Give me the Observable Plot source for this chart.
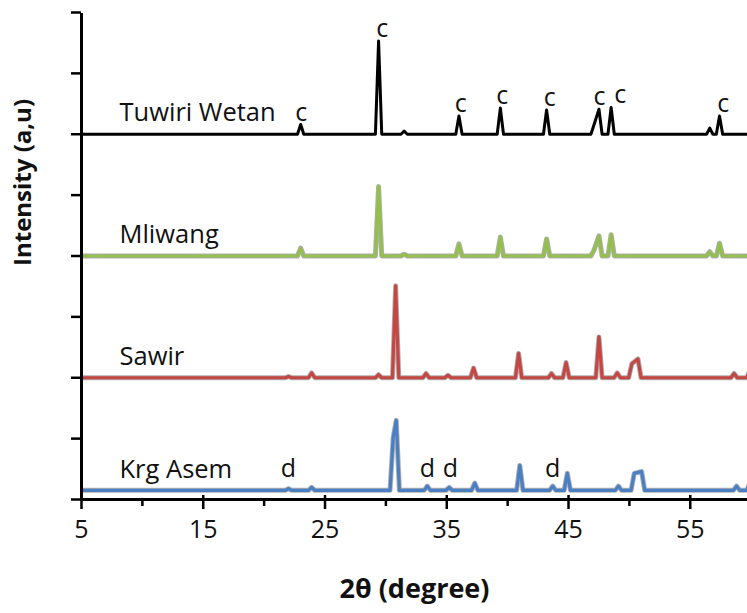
<!DOCTYPE html>
<html>
<head>
<meta charset="utf-8">
<script src="https://cdn.jsdelivr.net/npm/d3@7"></script>
<script src="https://cdn.jsdelivr.net/npm/@observablehq/plot@0.6"></script>
<style>
  html, body { margin: 0; padding: 0; background: #fff; }
  #chart svg { display: block; }
</style>
</head>
<body>
<div id="chart"></div>
<script>
// XRD patterns of four limestone samples, stacked with vertical offsets.
const sampleNames = ["Tuwiri Wetan", "Mliwang", "Sawir", "Krg Asem"];
const sampleOffsets = [6, 4, 2, 0.15];

// Peaks as [2θ (degree), intensity above the sample's baseline (a.u.)]
const tuwiriWetanPeaks = [
  [23.0, 0.16], [29.4, 1.53], [31.5, 0.05], [36.0, 0.30], [39.4, 0.43],
  [43.2, 0.40], [47.1, 0.16], [47.5, 0.41], [48.5, 0.44], [56.6, 0.10],
  [57.4, 0.30]
];
const mliwangPeaks = [
  [23.0, 0.13], [29.4, 1.14], [31.5, 0.03], [36.0, 0.20], [39.4, 0.31],
  [43.2, 0.28], [47.1, 0.10], [47.5, 0.33], [48.5, 0.35], [56.6, 0.07],
  [57.4, 0.21]
];
const sawirPeaks = [
  [22.0, 0.02], [23.9, 0.08], [29.4, 0.05], [30.8, 1.51], [33.3, 0.07],
  [35.1, 0.04], [37.2, 0.16], [40.9, 0.40], [43.6, 0.07], [44.8, 0.25],
  [47.5, 0.67], [49.0, 0.08], [50.2, 0.23], [50.7, 0.31], [58.6, 0.07],
  [59.9, 0.12]
];
const krgAsemPeaks = [
  [22.0, 0.03], [23.9, 0.05], [30.6, 0.87], [30.85, 1.15], [33.4, 0.07],
  [35.2, 0.05], [37.3, 0.12], [41.0, 0.41], [43.7, 0.07], [44.9, 0.28],
  [49.1, 0.07], [50.4, 0.28], [51.0, 0.31], [58.8, 0.07], [59.9, 0.12]
];
const samplePeaks = [tuwiriWetanPeaks, mliwangPeaks, sawirPeaks, krgAsemPeaks];

// Phase markers: c = calcite (on Tuwiri Wetan), d = dolomite (on Krg Asem)
const calciteMarks = [23.0, 29.4, 36.0, 39.4, 43.2, 47.5, 48.5, 57.4];
const calciteLabelAt = [23.05, 29.7, 36.15, 39.55, 43.45, 47.55, 49.25, 57.7];
const dolomiteMarks = [22.0, 33.4, 35.3, 43.7];

// Axis ticks
const xMajorTicks = [5, 15, 25, 35, 45, 55];
const xMinorTicks = [10, 20, 30, 40, 50];
const yTicks = [0, 1, 2, 3, 4, 5, 6, 7, 8];

const X_MIN = 5, X_MAX = 59.7, HALF_BASE = 0.26;

// Vertices of one pattern: flat baseline, each peak rising from a foot on either side;
// neighbouring peaks closer than a peak's base share their flanks.
function patternVertices(name, peaks, offset) {
  const gap = 2 * HALF_BASE + 0.15;
  const pts = [{name, t: X_MIN, i: offset}];
  peaks.forEach(([t, h], k) => {
    const prev = peaks[k - 1], next = peaks[k + 1];
    if (!prev || t - prev[0] > gap) pts.push({name, t: t - HALF_BASE, i: offset});
    pts.push({name, t, i: offset + h});
    if (!next || next[0] - t > gap) pts.push({name, t: t + HALF_BASE, i: offset});
  });
  pts.push({name, t: 60.5, i: offset});
  return pts;
}

const patterns = sampleNames.map((n, k) => patternVertices(n, samplePeaks[k], sampleOffsets[k]));
const sampleLabels = sampleNames.map((name, k) => ({name, offset: sampleOffsets[k]}));

const calciteLabels = calciteMarks.map((t, k) => {
  const peak = tuwiriWetanPeaks.find(p => p[0] === t);
  return {t: calciteLabelAt[k], i: sampleOffsets[0] + peak[1]};
});
const dolomiteLabels = dolomiteMarks.map(t => ({t, i: sampleOffsets[3]}));

const colors = ["#000000", "#94bf4f", "#c44744", "#4a7fc4"];
const font = "Open Sans";

const lineMarks = [];
[3, 2, 1, 0].forEach(k => {
  if (k > 0) {
    lineMarks.push(Plot.line(patterns[k], {
      x: "t", y: "i", curve: "linear", clip: true,
      stroke: "#5f5f5f", strokeOpacity: 0.5, strokeWidth: 5, strokeLinejoin: "round"
    }));
  }
  lineMarks.push(Plot.line(patterns[k], {
    x: "t", y: "i", curve: "linear", clip: true,
    stroke: colors[k], strokeWidth: k === 0 ? 3 : 3.2, strokeLinejoin: "round"
  }));
});

const chart = Plot.plot({
  width: 747,
  height: 613,
  marginLeft: 81,
  marginRight: 0,
  marginTop: 12,
  marginBottom: 114,
  x: {domain: [X_MIN, X_MAX], axis: null},
  y: {domain: [0, 8], axis: null},
  style: {fontFamily: font, background: "#fff", overflow: "visible"},
  marks: [
    ...lineMarks,
    // axes
    Plot.ruleX([X_MIN], {y1: 0, y2: 8, stroke: "#000", strokeWidth: 3, insetTop: -1, insetBottom: -1}),
    Plot.ruleY([0], {x1: X_MIN, x2: X_MAX, stroke: "#000", strokeWidth: 3, insetLeft: -1}),
    Plot.ruleY(yTicks, {x1: X_MIN, x2: X_MIN, insetLeft: -10, stroke: "#000", strokeWidth: 2.5}),
    Plot.ruleX(xMajorTicks, {y1: 0, y2: 0, insetTop: -4, insetBottom: -10, stroke: "#000", strokeWidth: 2.5}),
    Plot.ruleX(xMinorTicks, {y1: 0, y2: 0, insetBottom: -7, stroke: "#000", strokeWidth: 2.5}),
    Plot.text(xMajorTicks, {x: d => d, frameAnchor: "bottom", dy: 38, text: d => String(d),
      fontSize: 25, fill: "#111"}),
    // axis titles
    Plot.text(["2θ (degree)"], {frameAnchor: "bottom", dy: 98, fontSize: 27, fontWeight: "bold", fill: "#111"}),
    Plot.text(["Intensity (a,u)"], {frameAnchor: "left", dx: -58, dy: 10, rotate: -90,
      fontSize: 24, fontWeight: "bold", fill: "#111"}),
    // sample names
    Plot.text(sampleLabels, {y: "offset", text: "name", frameAnchor: "left", textAnchor: "start",
      dx: 38, dy: -21, fontSize: 25.5, fill: "#111"}),
    // phase markers
    Plot.text(calciteLabels, {x: "t", y: "i", text: () => "c", dy: -12, fontSize: 25, fill: "#111"}),
    Plot.text(dolomiteLabels, {x: "t", y: "i", text: () => "d", dy: -21, fontSize: 25, fill: "#111"})
  ]
});

document.getElementById("chart").appendChild(chart);
</script>
</body>
</html>
